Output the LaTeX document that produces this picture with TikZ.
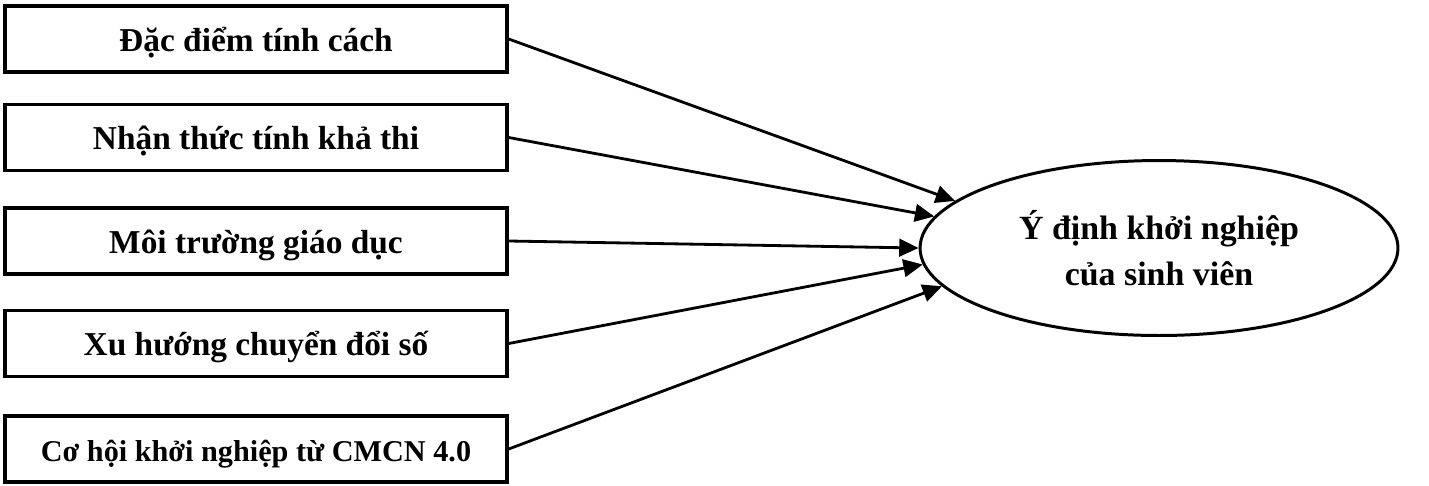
\documentclass[tikz,border=0pt]{standalone}
\usepackage{fontspec}
\setmainfont{Liberation Serif}
\usetikzlibrary{shapes.geometric, arrows.meta, positioning}

\begin{document}
\begin{tikzpicture}[x=0.02cm, y=-0.02cm,
    box/.style={rectangle, draw, line width=2pt, minimum width=10.04cm, minimum height=1.32cm, text height=14pt, text depth=0pt, align=center, font=\fontsize{19}{23}\selectfont\bfseries},
    goal/.style={ellipse, draw, line width=1.7pt, minimum width=9.56cm, minimum height=3.5cm, inner sep=0pt, align=center, font=\fontsize{19.3}{26}\selectfont\bfseries},
    arrow/.style={-{Triangle[length=11pt, width=10pt]}, line width=1.6pt}
]
\useasboundingbox (0,0) rectangle (1429,485);

\node[box] (trait) at (256,39) {Đặc điểm tính cách};
\node[box, below=0.58cm of trait] (feas) {Nhận thức tính khả thi};
\node[box, below=0.68cm of feas] (edu) {Môi trường giáo dục};
\node[box, below=0.66cm of edu] (digi) {Xu hướng chuyển đổi số};
\node[box, below=0.72cm of digi, font=\fontsize{17.2}{21}\selectfont\bfseries] (oppo) {Cơ hội khởi nghiệp từ CMCN 4.0};

\node[goal] (intent) at (1159,248) {Ý định khởi nghiệp\\của sinh viên};

\draw[arrow] (trait.east) -- (intent.167);
\draw[arrow] (feas.east) -- (intent.172);
\draw[arrow] (edu.east) -- (intent.180);
\draw[arrow] (digi.east) -- (intent.184);
\draw[arrow] (oppo.east) -- (intent.190);

\end{tikzpicture}
\end{document}
